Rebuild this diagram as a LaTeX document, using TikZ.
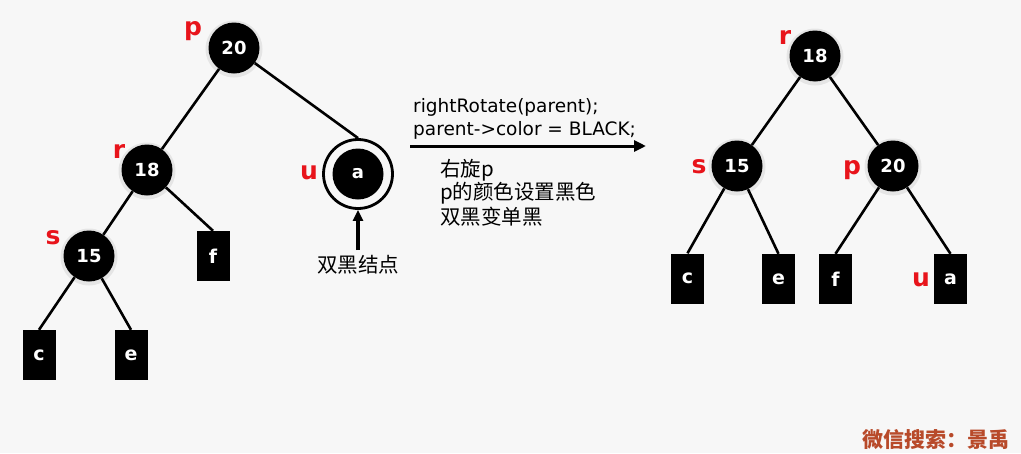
\documentclass[tikz,border=0pt]{standalone}
\usepackage{fontspec}
\setmainfont{DejaVu Sans}
\newfontfamily\cjk{Noto Sans CJK SC}
\usetikzlibrary{arrows.meta}
\definecolor{bg}{HTML}{F7F7F7}
\definecolor{lblred}{HTML}{E8141B}
\definecolor{wm}{HTML}{B84A2A}
\tikzset{
  rbnode/.style={circle, fill=black, minimum size=51pt, inner sep=0pt, text=white, font=\bfseries\fontsize{18}{18}\selectfont},
  halo/.style={circle, fill=black, fill opacity=0.07, minimum size=57pt, inner sep=0pt},
  leaf/.style={rectangle, fill=black, minimum width=33pt, minimum height=50pt, inner sep=0pt, text=white, font=\bfseries\fontsize{19}{19}\selectfont},
  tag/.style={text=lblred, font=\bfseries\fontsize{25}{25}\selectfont, inner sep=0pt},
  edge/.style={line width=2.6pt},
  ring/.style={circle, draw=black, line width=2.8pt, minimum size=69pt, inner sep=0pt},
  code/.style={anchor=west, inner sep=0pt, font=\fontsize{18.5}{18.5}\selectfont},
  cn/.style={anchor=west, inner sep=0pt, font=\cjk\fontsize{20.5}{20.5}\selectfont},
}
\begin{document}
\begin{tikzpicture}[x=1pt,y=-1pt]
\fill[bg] (0,0) rectangle (1021,453);
\useasboundingbox (0,0) rectangle (1021,453);
% left tree
\node[halo] (hlp) at (234,49) {};
\node[halo] (hlr) at (147,171) {};
\node[halo] (hls) at (89,257) {};
\node[rbnode] (lp) at (234,48) {20};
\node[rbnode] (lr) at (147,170) {18};
\node[rbnode] (ls) at (89,256) {15};
\node[ring] (luo) at (358,174) {};
\node[rbnode] (lu) at (358,174) {a};
\node[leaf] (lf) at (213,256) {f};
\node[leaf] (lc) at (39,355) {c};
\node[leaf] (le) at (131,355) {e};
\node[tag] (tlp) at (193,31) {p};
\node[tag] (tlr) at (119,151) {r};
\node[tag] (tls) at (53,238) {s};
\node[tag] (tlu) at (309,173) {u};
\draw[edge] (lp) -- (lr);
\draw[edge] (lp) -- (luo.north);
\draw[edge] (lr) -- (ls);
\draw[edge] (lr) -- (lf.north);
\draw[edge] (ls) -- (lc.north);
\draw[edge] (ls) -- (le.north);
\node[anchor=center, inner sep=0pt, font=\cjk\fontsize{20.5}{20.5}\selectfont] (dbl) at (358,265) {双黑结点};
\coordinate (dblt) at (358,250);
\draw[line width=3.2pt, -{Triangle[length=11pt,width=10pt]}] (dblt) -- (luo.south);
% middle
\node[code] (c1) at (413,107) {rightRotate(parent);};
\node[code] (c2) at (413,130) {parent->color = BLACK;};
\coordinate (arrs) at (410,146);
\coordinate (arre) at (646,146);
\draw[line width=3pt, -{Triangle[length=12pt,width=11pt]}] (arrs) -- (arre);
\node[cn] (n1) at (440,170) {右旋p};
\node[cn] (n2) at (440,193) {p的颜色设置黑色};
\node[cn] (n3) at (440,217) {双黑变单黑};
% right tree
\node[halo] (hrr) at (815,57) {};
\node[halo] (hrs) at (737,167) {};
\node[halo] (hrp) at (893,167) {};
\node[rbnode] (rr) at (815,56) {18};
\node[rbnode] (rs) at (737,166) {15};
\node[rbnode] (rp) at (893,166) {20};
\node[leaf] (rc) at (687.5,278.5) {c};
\node[leaf] (re) at (778.5,279) {e};
\node[leaf] (rf) at (835.5,279) {f};
\node[leaf] (ra) at (950.5,279) {a};
\node[tag] (trr) at (785,37) {r};
\node[tag] (trs) at (699,167) {s};
\node[tag] (trp) at (852,170) {p};
\node[tag] (tru) at (921,280) {u};
\draw[edge] (rr) -- (rs);
\draw[edge] (rr) -- (rp);
\draw[edge] (rs) -- (rc.north);
\draw[edge] (rs) -- (re.north);
\draw[edge] (rp) -- (rf.north);
\draw[edge] (rp) -- (ra.north);
% watermark
\node[text=wm, inner sep=0pt, font=\cjk\bfseries\fontsize{21}{21}\selectfont] (wmk) at (936,440) {微信搜索：景禹};
\end{tikzpicture}
\end{document}
